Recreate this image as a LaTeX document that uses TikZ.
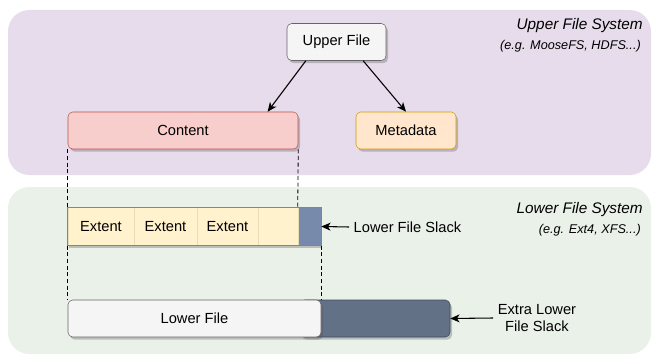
\documentclass[tikz,border=0pt]{standalone}
\usepackage{fontspec}
\setmainfont{Liberation Sans}
\usetikzlibrary{arrows.meta,shadows}

\definecolor{upperbg}{RGB}{231,220,235}
\definecolor{lowerbg}{RGB}{234,241,233}
\definecolor{greyfill}{HTML}{F5F5F5}
\definecolor{greyline}{HTML}{666666}
\definecolor{redfill}{HTML}{F8CECC}
\definecolor{redline}{HTML}{B85450}
\definecolor{orangefill}{HTML}{FFE6CC}
\definecolor{orangeline}{HTML}{D79B00}
\definecolor{extentfill}{HTML}{FFF2CC}
\definecolor{extentline}{HTML}{E8DCB4}
\definecolor{slackfill}{RGB}{120,138,172}
\definecolor{darkfill}{RGB}{99,113,135}
\definecolor{darkline}{RGB}{60,72,90}

\tikzset{
  box/.style={draw, rounded corners=3.5pt, minimum height=27.75pt, inner sep=0pt,
    font=\fontsize{11}{13}\selectfont,
    drop shadow={shadow xshift=1.5pt, shadow yshift=-2pt, opacity=.3, fill=black!70}},
  cell/.style={draw=extentline, fill=extentfill, minimum height=28.5pt, inner sep=0pt,
    font=\fontsize{11}{13}\selectfont,
    drop shadow={shadow xshift=1pt, shadow yshift=-2pt, opacity=.3, fill=black!70}},
  fstitle/.style={anchor=east, inner sep=0pt, font=\fontsize{11.5}{13}\selectfont\itshape},
  fssub/.style={anchor=east, inner sep=0pt, font=\fontsize{9.5}{11}\selectfont\itshape},
  note/.style={font=\fontsize{11}{13}\selectfont},
  arr/.style={-{Stealth[length=7pt,width=6pt,inset=2pt]}, thick},
  link/.style={densely dashed, line width=0.6pt}
}

\begin{document}
\begin{tikzpicture}[x=0.75pt,y=-0.75pt]
\useasboundingbox (0,0) rectangle (659,356);

% file system layers
\fill[upperbg, rounded corners=16pt] (8,10) rectangle (651,175);
\fill[lowerbg, rounded corners=16pt] (8,187) rectangle (651,354);

\node[fstitle] (ufs) at (643,26) {Upper File System};
\node[fssub] (ufsex) at (641,46) {(e.g. MooseFS, HDFS...)};
\node[fstitle] (lfs) at (643,210) {Lower File System};
\node[fssub] (lfsex) at (641,230) {(e.g. Ext4, XFS...)};

% upper file and its parts
\node[box, fill=greyfill, draw=greyline, minimum width=74.25pt] (upper) at (336.5,42) {Upper File};
\node[box, fill=redfill, draw=redline, minimum width=172.5pt] (content) at (183,130.5) {Content};
\node[box, fill=orangefill, draw=orangeline, minimum width=75pt] (meta) at (406,130.5) {Metadata};

\draw[arr] ([xshift=-23pt]upper.south) -- ([xshift=-23pt]content.north east);
\draw[arr] ([xshift=20pt]upper.south) -- (meta.north);

% extents on the lower file system
\node[cell, minimum width=49.5pt] (ext1) at (101,226.5) {Extent};
\node[cell, minimum width=47.25pt] (ext2) at (165.5,226.5) {Extent};
\node[cell, minimum width=45.75pt] (ext3) at (227.5,226.5) {Extent};
\node[cell, minimum width=30pt] (ext4) at (278,226.5) {};
\node[cell, fill=slackfill, minimum width=17.25pt] (slack) at (309.5,226.5) {};
\draw[greyline!80, line width=0.6pt] (ext1.north west) rectangle (slack.south east);

\node[note, anchor=west] (slacktxt) at (349,227) {Lower File Slack};
\draw[arr] (slacktxt.west) -- (slack.east);

% lower file with the extra slack behind it
\node[box, fill=darkfill, draw=darkline, minimum width=112.5pt] (xslack) at (375,318.5) {};
\node[box, fill=greyfill, draw=greyline, minimum width=189.75pt] (lower) at (194.5,318.5) {Lower File};

\node[note, align=center] (xslacktxt) at (537,318) {Extra Lower\\File Slack};
\draw[arr] (xslacktxt.west) -- (xslack.east);

% content mapped onto extents, extents onto the lower file
\draw[link] (content.south west) -- (ext1.north west);
\draw[link] (content.south east) -- (slack.north west);
\draw[link] (ext1.south west) -- (lower.north west);
\draw[link] (slack.south east) -- (lower.north east);
\end{tikzpicture}
\end{document}
